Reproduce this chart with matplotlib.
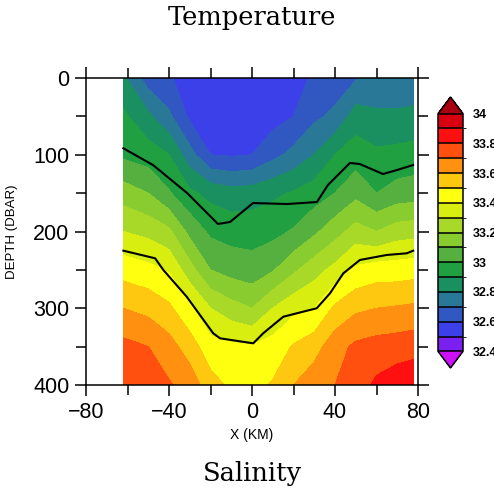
import numpy as np
import matplotlib.pyplot as plt
from matplotlib.colors import ListedColormap, BoundaryNorm
from matplotlib.ticker import MultipleLocator

# section grid: distance along the track (km) and pressure (dbar)
xkm = [-62, -50, -40, -30, -20, -10, 0, 10, 20, 30, 40, 50, 60, 70, 78]
depth = [0, 50, 100, 150, 200, 250, 300, 350, 400]

# salinity, one row per pressure level
sal = [
    [32.82, 32.65, 32.61, 32.56, 32.52, 32.52, 32.52, 32.53, 32.55, 32.62, 32.65, 32.69, 32.72, 32.72, 32.72],
    [32.92, 32.82, 32.72, 32.58, 32.54, 32.54, 32.54, 32.56, 32.60, 32.68, 32.72, 32.85, 32.82, 32.82, 32.83],
    [32.98, 32.95, 32.90, 32.74, 32.60, 32.59, 32.60, 32.67, 32.73, 32.80, 32.90, 32.95, 32.92, 32.93, 32.94],
    [33.15, 33.10, 33.01, 32.92, 32.87, 32.84, 32.85, 32.88, 32.91, 32.95, 33.00, 33.07, 33.00, 33.04, 33.05],
    [33.30, 33.27, 33.22, 33.07, 32.98, 32.96, 32.96, 32.97, 33.01, 33.08, 33.16, 33.24, 33.20, 33.25, 33.26],
    [33.46, 33.43, 33.39, 33.24, 33.10, 33.06, 33.04, 33.09, 33.18, 33.26, 33.33, 33.42, 33.45, 33.45, 33.46],
    [33.60, 33.57, 33.52, 33.42, 33.30, 33.24, 33.20, 33.30, 33.37, 33.40, 33.52, 33.58, 33.60, 33.61, 33.62],
    [33.73, 33.70, 33.64, 33.55, 33.44, 33.42, 33.41, 33.44, 33.51, 33.56, 33.66, 33.72, 33.74, 33.75, 33.76],
    [33.78, 33.75, 33.71, 33.66, 33.54, 33.48, 33.47, 33.51, 33.60, 33.66, 33.70, 33.75, 33.82, 33.86, 33.88],
]

# overlaid black isolines (x in km, pressure in dbar)
upper_x = [-62.0, -47.7, -31.3, -16.4, -10.6, 0.5, 16.9, 31.3, 36.6, 47.2, 52.0, 63.1, 69.9, 77.6]
upper_d = [91.6, 113.4, 149.8, 190.2, 187.6, 162.9, 164.2, 161.6, 139.4, 110.7, 112.1, 125.1, 119.9, 113.4]
lower_x = [-62.0, -46.7, -42.7, -31.5, -18.7, -15.4, 0.6, 5.4, 15.1, 31.2, 37.6, 44.0, 52.0, 64.9, 74.6, 77.7]
lower_d = [225.0, 234.9, 250.2, 284.9, 332.6, 339.2, 345.7, 332.6, 311.0, 300.0, 280.5, 254.5, 237.1, 230.6, 228.4, 225.0]

levels = np.round(np.arange(32.4, 34.05, 0.1), 1)
colors = ['#7a20f0', '#3c40e8', '#3058c0', '#2a7898', '#1a9060', '#20a040',
          '#55b040', '#88cc30', '#a8d828', '#d8ee10', '#ffff10', '#ffc810',
          '#ff9010', '#ff5010', '#ff1010', '#d80010']
cmap = ListedColormap(colors)
cmap.set_under('#cc10f8')
cmap.set_over('#a80010')
norm = BoundaryNorm(levels, cmap.N)

fig = plt.figure(figsize=(4.94, 4.88), dpi=100)
ax = fig.add_axes([86/494, 1-385/488, 332/494, 307/488])

cf = ax.contourf(xkm, depth, sal, levels=levels, cmap=cmap, norm=norm, extend='both')
ax.plot(upper_x, upper_d, c='k', lw=1.5)
ax.plot(lower_x, lower_d, c='k', lw=1.5)

ax.set_xlim(-80, 80)
ax.set_ylim(400, 0)
ax.xaxis.set_major_locator(MultipleLocator(40))
ax.xaxis.set_minor_locator(MultipleLocator(20))
ax.yaxis.set_major_locator(MultipleLocator(100))
ax.yaxis.set_minor_locator(MultipleLocator(50))
ax.set_xticks([-80, -40, 0, 40, 80], ['\u221280', '\u221240', '0', '40', '80'])
ax.tick_params(which='both', direction='out', top=True, right=True, width=1.1)
ax.tick_params(which='major', length=8, labelsize=15.5, pad=4)
ax.tick_params(which='minor', length=7)
for lab in ax.get_xticklabels() + ax.get_yticklabels():
    lab.set_family('Liberation Sans')
for s in ax.spines.values():
    s.set_linewidth(1.1)

ax.set_xlabel('X (KM)', fontsize=10, family='Liberation Sans')
ax.xaxis.set_label_coords(0.5, -0.163)
ax.xaxis.label.set_va('center')
ax.set_ylabel('DEPTH (DBAR)', fontsize=9.5, family='Liberation Sans')
ax.yaxis.set_label_coords(-0.223, 0.5)
ax.yaxis.label.set_va('center')

# label bar with end triangles
cax = fig.add_axes([438/494, 1-368/488, 25/494, 271/488])
cb = fig.colorbar(cf, cax=cax, extendfrac=0.07, drawedges=True)
cb.outline.set_linewidth(1.1)
cb.dividers.set_color('k')
cb.dividers.set_linewidth(1.1)
cb.set_ticks(levels[::2])
cb.set_ticklabels(['%g' % v for v in levels[::2]])
cb.ax.tick_params(length=0, labelsize=9, pad=7)
for lab in cb.ax.get_yticklabels():
    lab.set_family('Liberation Sans')
    lab.set_fontweight('bold')

fig.text(252/494, 1-18/488, 'Temperature', ha='center', va='center',
         family='DejaVu Serif', fontsize=18.5)
fig.text(252/494, 1-473/488, 'Salinity', ha='center', va='center',
         family='DejaVu Serif', fontsize=18.5)

fig.savefig('out.png', dpi=100)
